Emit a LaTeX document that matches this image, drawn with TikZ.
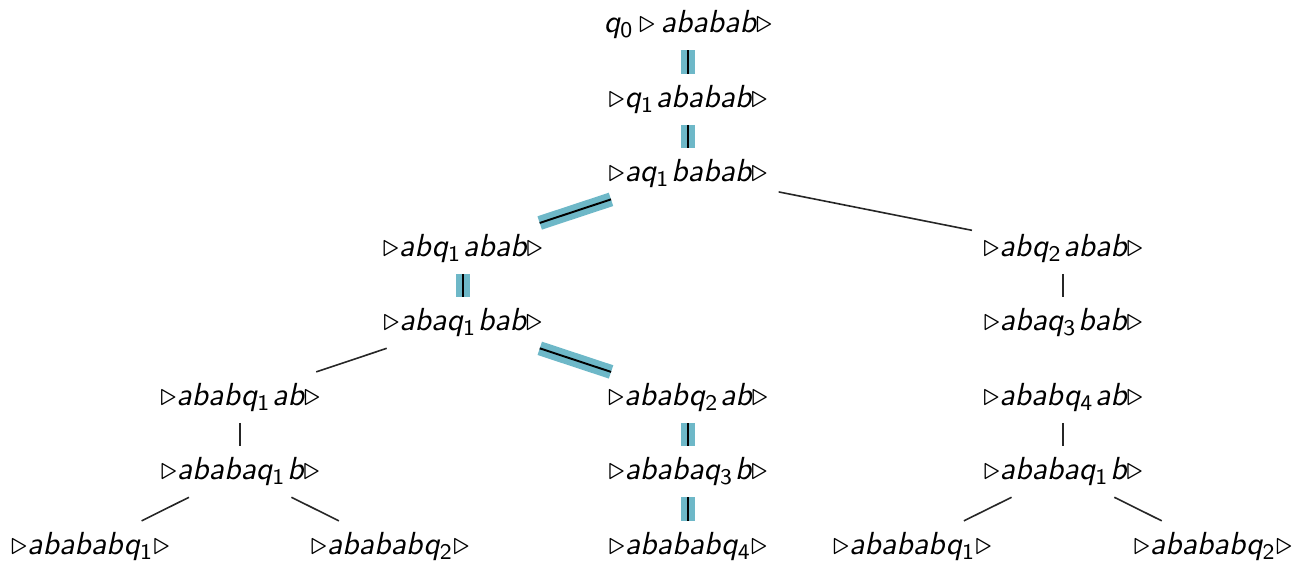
\documentclass[tikz,border=0pt]{standalone}
\usepackage{xcolor}

\definecolor{runblue}{RGB}{110,184,200}

% a configuration of the machine: tape end marker and state
\newcommand{\tr}{\ensuremath{\triangleright}}
\newcommand{\q}[1]{q\textsubscript{\upshape #1}}

\begin{document}
\begin{tikzpicture}

\tikzstyle{conf}=[font=\sffamily\itshape]
\tikzstyle{move}=[line width=0.5pt,draw=black!85]
% the accepting run is underlaid with a wide coloured band
\tikzstyle{run}=[line width=0.6pt,preaction={draw=runblue,line width=4.4pt}]

\def\dy{0.82}     % distance between two rows
\def\gap{\kern0.4pt}  % small space behind the state

\useasboundingbox (-7.575,-5.957) rectangle (6.826,0.275);

% Configurations, row by row
\node[conf] (c0) at (0,0) {\q0\,\tr\,ababab\tr};
\node[conf] (c1) at (0,-\dy) {\tr\q1\gap ababab\tr};
\node[conf] (c2) at (0,-2*\dy) {\tr a\q1\gap babab\tr};

\node[conf] (l1) at (-2.48,-3*\dy) {\tr ab\q1\gap abab\tr};
\node[conf] (r1) at (4.13,-3*\dy) {\tr ab\q2\gap abab\tr};

\node[conf] (l2) at (-2.48,-4*\dy) {\tr aba\q1\gap bab\tr};
\node[conf] (r2) at (4.13,-4*\dy) {\tr aba\q3\gap bab\tr};

\node[conf] (ll3) at (-4.93,-5*\dy) {\tr abab\q1\gap ab\tr};
\node[conf] (lr3) at (0,-5*\dy) {\tr abab\q2\gap ab\tr};
\node[conf] (r3) at (4.13,-5*\dy) {\tr abab\q4\gap ab\tr};

\node[conf] (ll4) at (-4.93,-6*\dy) {\tr ababa\q1\gap b\tr};
\node[conf] (lr4) at (0,-6*\dy) {\tr ababa\q3\gap b\tr};
\node[conf] (r4) at (4.13,-6*\dy) {\tr ababa\q1\gap b\tr};

\node[conf] (lla) at (-6.58,-7*\dy) {\tr ababab\q1\tr};
\node[conf] (llb) at (-3.28,-7*\dy) {\tr ababab\q2\tr};
\node[conf] (lr5) at (0,-7*\dy) {\tr ababab\q4\tr};
\node[conf] (ra) at (2.47,-7*\dy) {\tr ababab\q1\tr};
\node[conf] (rb) at (5.78,-7*\dy) {\tr ababab\q2\tr};

% Steps along the accepting run
\draw [run] (c0) -- (c1);
\draw [run] (c1) -- (c2);
\draw [run] (c2) -- (l1);
\draw [run] (l1) -- (l2);
\draw [run] (l2) -- (lr3);
\draw [run] (lr3) -- (lr4);
\draw [run] (lr4) -- (lr5);

% All the other steps
\draw [move] (c2) -- (r1);
\draw [move] (r1) -- (r2);
\draw [move] (l2) -- (ll3);
\draw [move] (ll3) -- (ll4);
\draw [move] (ll4) -- (lla);
\draw [move] (ll4) -- (llb);
\draw [move] (r3) -- (r4);
\draw [move] (r4) -- (ra);
\draw [move] (r4) -- (rb);

\end{tikzpicture}
\end{document}
